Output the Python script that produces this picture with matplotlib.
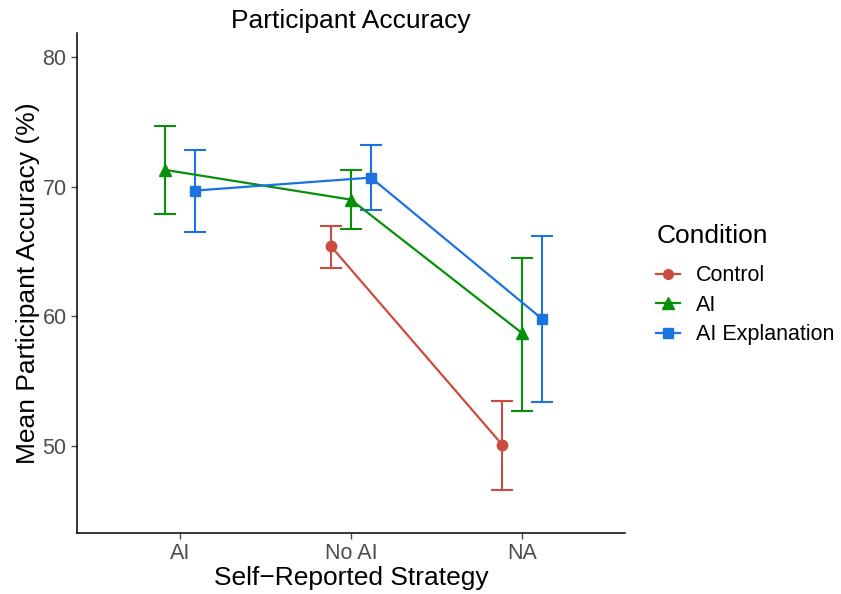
import numpy as np
import matplotlib.pyplot as plt
from matplotlib.lines import Line2D

plt.rcParams['font.family'] = ['Liberation Sans', 'DejaVu Sans']

# Datos
strategies = ['AI', 'No AI', 'NA']
conditions = ['Control', 'AI', 'AI Explanation']

control_mean = [None, 65.4, 50.1]
control_low = [None, 63.7, 46.6]
control_high = [None, 67.0, 53.5]

ai_mean = [71.3, 69.0, 58.7]
ai_low = [67.9, 66.7, 52.7]
ai_high = [74.7, 71.3, 64.5]

aiexp_mean = [69.7, 70.7, 59.8]
aiexp_low = [66.5, 68.2, 53.4]
aiexp_high = [72.8, 73.2, 66.2]

series = [
    (control_mean, control_low, control_high, '#CB4C3F', 'o', 7.5),
    (ai_mean, ai_low, ai_high, '#07900A', '^', 8.5),
    (aiexp_mean, aiexp_low, aiexp_high, '#1C72E0', 's', 7.5),
]

fig = plt.figure(figsize=(8.41, 5.94), dpi=100)
ax = fig.add_axes([77 / 841, 61 / 594, 548 / 841, 500 / 594])

# dodge tipo ggplot: ancho 0.35 repartido entre los grupos presentes
dodge = 0.35
offsets = {}
for j in range(len(strategies)):
    present = [i for i, s in enumerate(series) if s[0][j] is not None]
    n = len(present)
    for k, i in enumerate(present):
        offsets[(i, j)] = dodge * (k - (n - 1) / 2) / n

for i, (m, lo, hi, col, mk, ms) in enumerate(series):
    xs, ys, ylo, yhi = [], [], [], []
    for j in range(len(strategies)):
        if m[j] is None:
            continue
        xs.append(j + 1 + offsets[(i, j)])
        ys.append(m[j])
        ylo.append(m[j] - lo[j])
        yhi.append(hi[j] - m[j])
    ax.errorbar(xs, ys, yerr=[ylo, yhi], color=col, capsize=8, elinewidth=1.5,
                capthick=1.5, fmt='none', zorder=2)
    ax.plot(xs, ys, color=col, lw=1.6, marker=mk, markersize=ms, zorder=3)

ax.set_xlim(0.4, 3.6)
ax.set_ylim(43.3, 81.85)
ax.set_xticks([1, 2, 3])
ax.set_xticklabels(strategies)
ax.set_yticks([50, 60, 70, 80])
ax.tick_params(axis='both', colors='#4D4D4D', labelsize=15.5, length=4.5, width=1,
               pad=3)
for sp in ['top', 'right']:
    ax.spines[sp].set_visible(False)
for sp in ['left', 'bottom']:
    ax.spines[sp].set_linewidth(1.1)

ax.set_xlabel('Self\u2212Reported Strategy', fontsize=19, labelpad=1)
ax.set_ylabel('Mean Participant Accuracy (%)', fontsize=19, labelpad=1.5)
ax.set_title('Participant Accuracy', fontsize=19, pad=3)

handles = [Line2D([], [], color=s[3], marker=s[4], markersize=s[5] - 0.5, lw=1.6)
           for s in series]
leg = fig.legend(handles, conditions, title='Condition', loc='upper left',
                 bbox_to_anchor=(637 / 841, 1 - 205 / 594), frameon=False,
                 fontsize=15.5, title_fontsize=19, handlelength=1.1,
                 labelspacing=0.4, handletextpad=0.75)
leg._legend_box.align = 'left'
leg._legend_box.sep = 12

fig.savefig('out.png', dpi=100)
